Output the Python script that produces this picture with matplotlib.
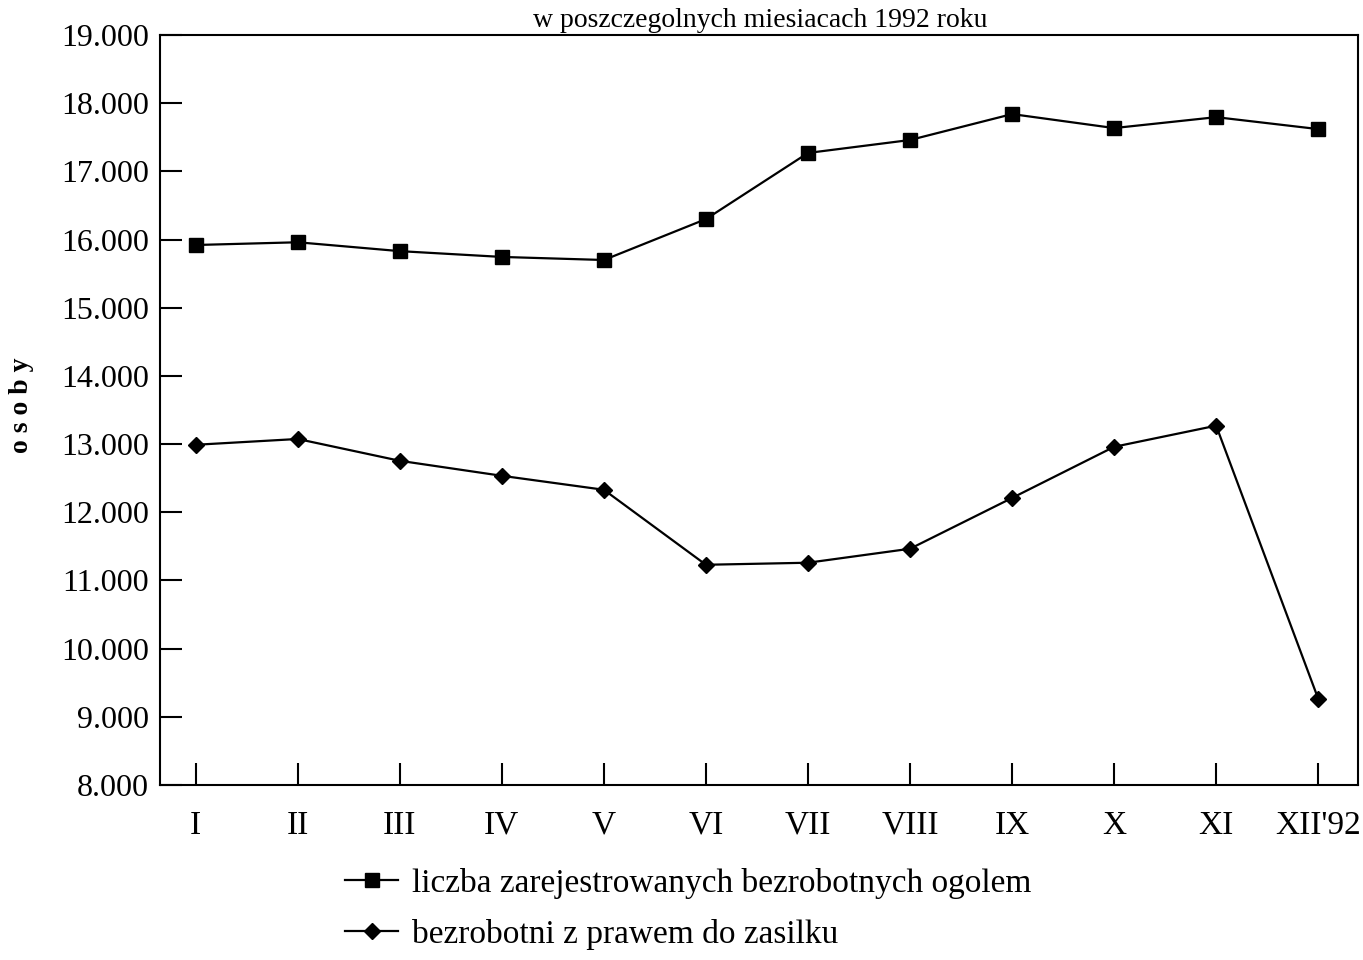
import matplotlib.pyplot as plt
import numpy as np

plt.rcParams['font.family'] = ['Liberation Serif', 'DejaVu Serif']

months = ['I', 'II', 'III', 'IV', 'V', 'VI', 'VII', 'VIII', 'IX', 'X', 'XI', "XII'92"]
ogolem = [15920, 15960, 15830, 15745, 15700, 16300, 17270, 17460, 17840, 17635, 17795, 17620]
z_zasilkiem = [12990, 13075, 12755, 12535, 12330, 11230, 11260, 11465, 12210, 12960, 13270, 9265]

yticks = np.arange(8000, 19001, 1000)
ylabels = ['{:d}.000'.format(v // 1000) for v in yticks]

fig = plt.figure(figsize=(13.63, 9.6), dpi=100)
ax = fig.add_axes([160 / 1363, 1 - 785 / 960, 1198 / 1363, 750 / 960])

x = np.arange(len(months))
ax.plot(x, ogolem, color='black', lw=1.6, marker='s', ms=10, label='liczba zarejestrowanych bezrobotnych ogolem')
ax.plot(x, z_zasilkiem, color='black', lw=1.6, marker='D', ms=8, label='bezrobotni z prawem do zasilku')

ax.set_xlim(-0.35, 11.39)
ax.set_ylim(8000, 19000)
ax.set_xticks(x)
ax.set_xticklabels(months, fontsize=24)
ax.set_yticks(yticks)
ax.set_yticklabels(ylabels, fontsize=23)
ax.tick_params(axis='both', direction='in', length=16, width=1.5, color='black')
ax.tick_params(axis='x', pad=18)
ax.tick_params(axis='y', pad=8)
for s in ax.spines.values():
    s.set_linewidth(1.5)

fig.text(22 / 1363, 1 - 405 / 960, 'o s o b y', rotation=90, fontsize=20,
         ha='center', va='center', fontweight='bold')

# tytul (w oryginale ucięty u gory skanu)
fig.text(760 / 1363, 1 - 27 / 960, 'w poszczegolnych miesiacach 1992 roku', fontsize=20,
         ha='center', va='baseline')

leg = fig.legend(loc='upper left', bbox_to_anchor=(315 / 1363, 1 - 838 / 960), frameon=False,
                 fontsize=24, handlelength=1.6, labelspacing=0.6, handletextpad=0.4)

fig.savefig('out.png', dpi=100)
